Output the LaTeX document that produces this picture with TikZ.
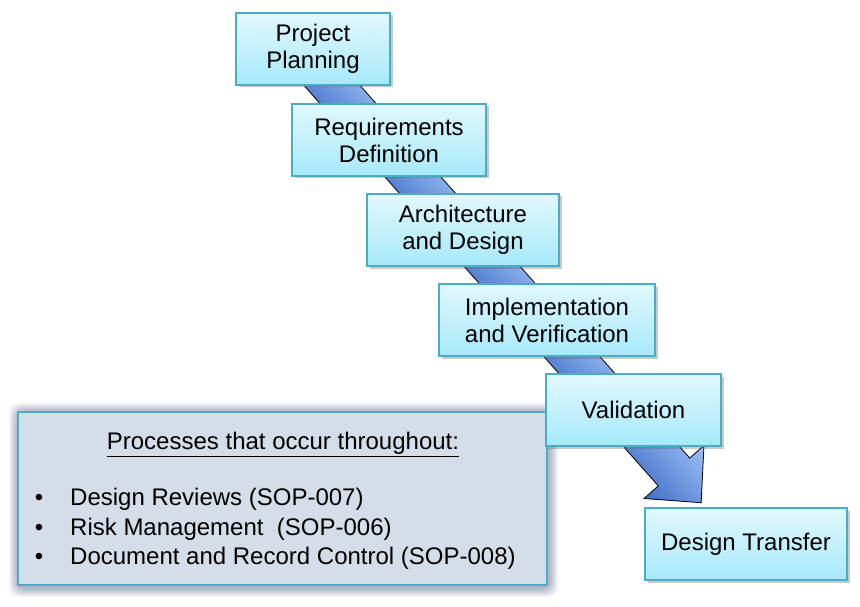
\documentclass[tikz,border=0pt]{standalone}
\usepackage{fontspec}
\setmainfont{Liberation Sans}
\usetikzlibrary{shadows}
\definecolor{boxedge}{HTML}{4BACC6}
\definecolor{boxtop}{HTML}{E2F8FE}
\definecolor{boxbot}{HTML}{A6E9F9}
\definecolor{procfill}{HTML}{D5DDE8}
\definecolor{arrdark}{HTML}{3E6EC6}
\definecolor{arrlight}{HTML}{A0C1F7}
\begin{document}
\begin{tikzpicture}[x=1pt,y=-1pt,
  txt/.style={font=\fontsize{24}{27}\selectfont},
  stage/.style={txt, draw=boxedge, line width=2pt, top color=boxtop, bottom color=boxbot,
    minimum height=72pt, align=center, inner sep=0pt,
    drop shadow={shadow xshift=2.5pt, shadow yshift=-2.5pt, opacity=0.35, fill=black!60}},
  procbox/.style={draw=boxedge, line width=2pt, fill=procfill, inner sep=0pt},
  glow/.style={fill=black!70!blue, opacity=0.035, rounded corners=10pt},
  linetext/.style={txt, inner sep=0pt},
  blockarrow/.style={draw=black, line width=0.8pt, bottom color=arrdark, top color=arrlight, line join=miter}]
\useasboundingbox (0,0) rectangle (860,607);
\fill[white] (0,0) rectangle (860,607);

% block arrow behind the stages
\coordinate (arrowbase) at (674,472);
\begin{scope}[transform canvas={shift={(arrowbase)}, rotate=-48.5}, x=1pt, y=1pt]
  \path[blockarrow] (-563,-21) -- (0,-21) -- (0,-40) -- (41,0) -- (0,40) -- (0,21) -- (-563,21) -- cycle;
\end{scope}

% processes box with soft glow
\foreach \i in {1,...,9}
  \fill[glow] (18-\i,412-\i) rectangle (547+\i+2,585+\i+3);
\node[procbox, minimum width=529pt, minimum height=173pt] (proc) at (282.5,498.5) {};
\node[linetext, anchor=base] (ptitle) at (283,449.5) {\underline{Processes that occur throughout:}};
\node[linetext, anchor=base] (bul1) at (39,505.5) {\textbullet};
\node[linetext, anchor=base] (bul2) at (39,535) {\textbullet};
\node[linetext, anchor=base] (bul3) at (39,564.5) {\textbullet};
\node[linetext, anchor=base west] (item1) at (70,505.5) {Design Reviews (SOP-007)};
\node[linetext, anchor=base west] (item2) at (70,535) {Risk Management~ (SOP-006)};
\node[linetext, anchor=base west] (item3) at (70,564.5) {Document and Record Control (SOP-008)};

% stages
\node[stage, minimum width=154pt] (pp) at (313,49) {Project\\Planning};
\node[stage, minimum width=194pt] (rd) at (389,140) {Requirements\\Definition};
\node[stage, minimum width=192pt] (ad) at (463,230) {Architecture\\and Design};
\node[stage, minimum width=216pt] (iv) at (547,320) {Implementation\\and Verification};
\node[stage, minimum width=175pt] (va) at (633.5,410) {Validation};
\node[stage, minimum width=202pt] (dt) at (746,544) {Design Transfer};
\end{tikzpicture}
\end{document}
